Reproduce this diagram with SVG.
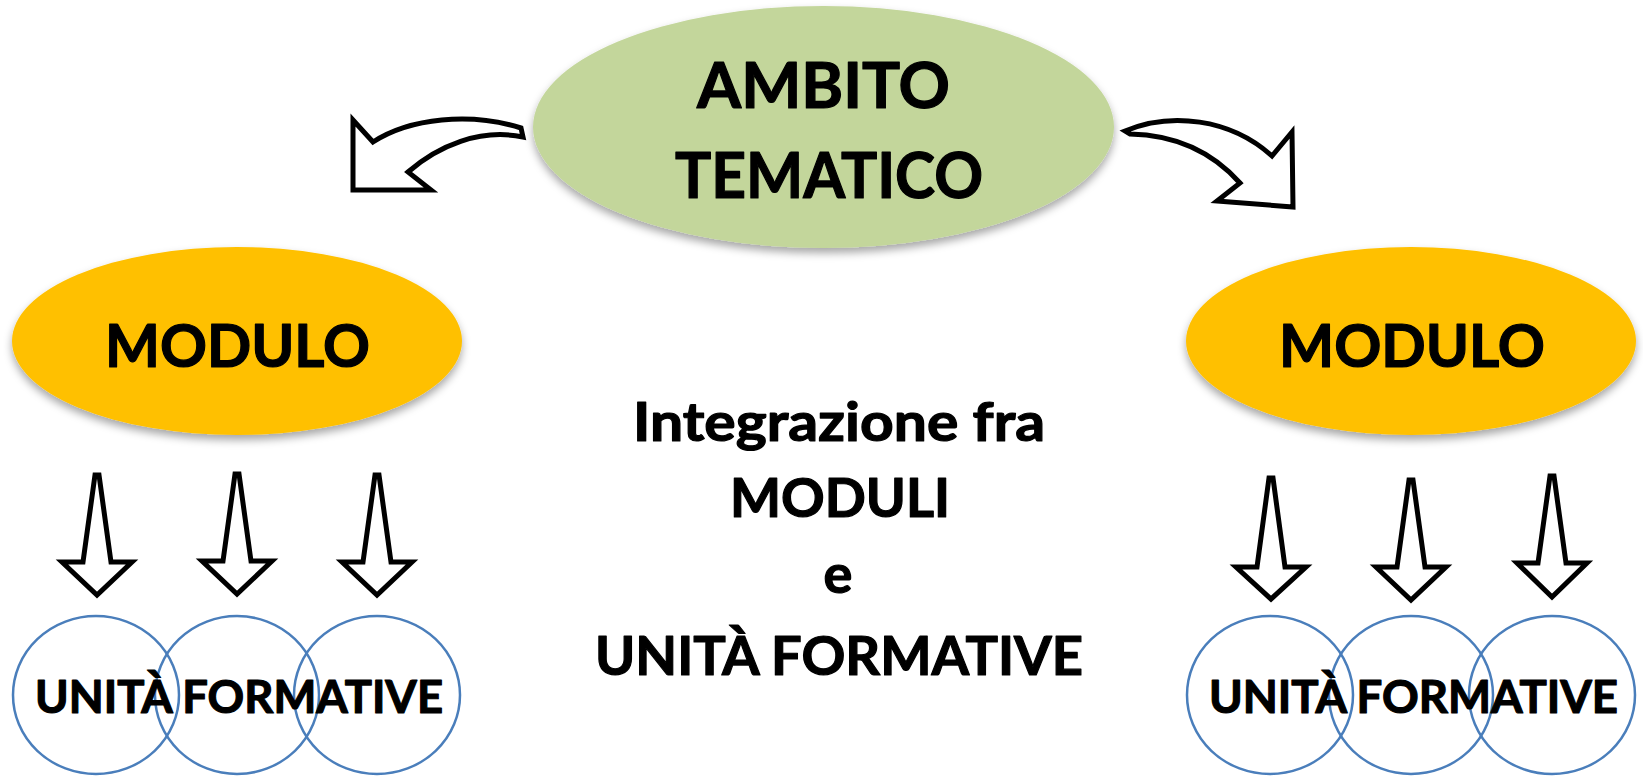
<svg xmlns="http://www.w3.org/2000/svg" width="1643" height="778" viewBox="0 0 1643 778">
<defs>
<filter id="sh" x="-10%" y="-10%" width="120%" height="130%">
<feDropShadow dx="0" dy="5" stdDeviation="4" flood-color="#000" flood-opacity="0.35"/>
</filter>
</defs>
<style>
text{font-family:Lato,"Open Sans","Liberation Sans",sans-serif;font-weight:bold;fill:#000;stroke:#000;stroke-width:1.2;stroke-linejoin:round;text-anchor:middle}
.green{fill:#C3D69B;filter:url(#sh)}
.orange{fill:#FFC000;filter:url(#sh)}
.circ{fill:none;stroke:#4A7EBB;stroke-width:2.5}
.arr{fill:#fff;stroke:#000;stroke-width:5;stroke-linejoin:miter}
</style>
<rect width="1643" height="778" fill="#fff"/>
<g id="ambito">
<ellipse class="green" cx="823.5" cy="127" rx="290.5" ry="121"/>
<text x="823.5" y="108" font-size="63" textLength="253" lengthAdjust="spacingAndGlyphs">AMBITO</text>
<text x="829" y="198" font-size="63" textLength="308" lengthAdjust="spacingAndGlyphs">TEMATICO</text>
</g>
<g id="modulo-left">
<ellipse class="orange" cx="237" cy="341" rx="225" ry="94"/>
<text x="237.5" y="367" font-size="59" textLength="265" lengthAdjust="spacingAndGlyphs">MODULO</text>
</g>
<g id="modulo-right">
<ellipse class="orange" cx="1411" cy="341" rx="225" ry="94"/>
<text x="1412" y="367" font-size="59" textLength="266" lengthAdjust="spacingAndGlyphs">MODULO</text>
</g>
<g id="center-text">
<text x="839" y="441" font-size="54" textLength="412" lengthAdjust="spacingAndGlyphs">Integrazione fra</text>
<text x="840" y="517" font-size="54" textLength="220" lengthAdjust="spacingAndGlyphs">MODULI</text>
<text x="838" y="593" font-size="54">e</text>
<text x="839" y="675" font-size="54" textLength="488" lengthAdjust="spacingAndGlyphs">UNITÀ FORMATIVE</text>
</g>
<g id="unita-left">
<ellipse class="circ" cx="96" cy="695" rx="83" ry="79"/>
<ellipse class="circ" cx="237" cy="695" rx="82" ry="79"/>
<ellipse class="circ" cx="377" cy="695" rx="83" ry="79"/>
<text x="239" y="713" font-size="46" textLength="408" lengthAdjust="spacingAndGlyphs">UNITÀ FORMATIVE</text>
</g>
<g id="unita-right">
<ellipse class="circ" cx="1270" cy="695" rx="83" ry="79"/>
<ellipse class="circ" cx="1411" cy="695" rx="82" ry="79"/>
<ellipse class="circ" cx="1552" cy="695" rx="83" ry="79"/>
<text x="1413.5" y="713" font-size="46" textLength="409" lengthAdjust="spacingAndGlyphs">UNITÀ FORMATIVE</text>
</g>
<g id="connectors">
<path class="arr" d="M353,120 L353,190 L431,190 L408,172 C438,146 480,128 523,137 L521,128 C470,112 410,118 373,142 Z"/>
<path class="arr" d="M1125,131 C1170,112 1230,118 1272,156 L1292,132 L1293,207 L1217,201 L1240,183 C1215,155 1180,135 1130,134 Z"/>
<polygon class="arr" points="95,475 99,475 111,562 132,562 97,595 62,562 83,562"/>
<polygon class="arr" points="235,474 239,474 251,561 272,561 237,594 202,561 223,561"/>
<polygon class="arr" points="375,475 379,475 391,562 412,562 377,595 342,562 363,562"/>
<polygon class="arr" points="1269,478 1273,478 1285,567 1306,567 1271,599 1236,567 1257,567"/>
<polygon class="arr" points="1409,480 1413,480 1425,567 1446,567 1411,600 1376,567 1397,567"/>
<polygon class="arr" points="1550,476 1554,476 1566,563 1587,563 1552,597 1517,563 1538,563"/>
</g>
</svg>
